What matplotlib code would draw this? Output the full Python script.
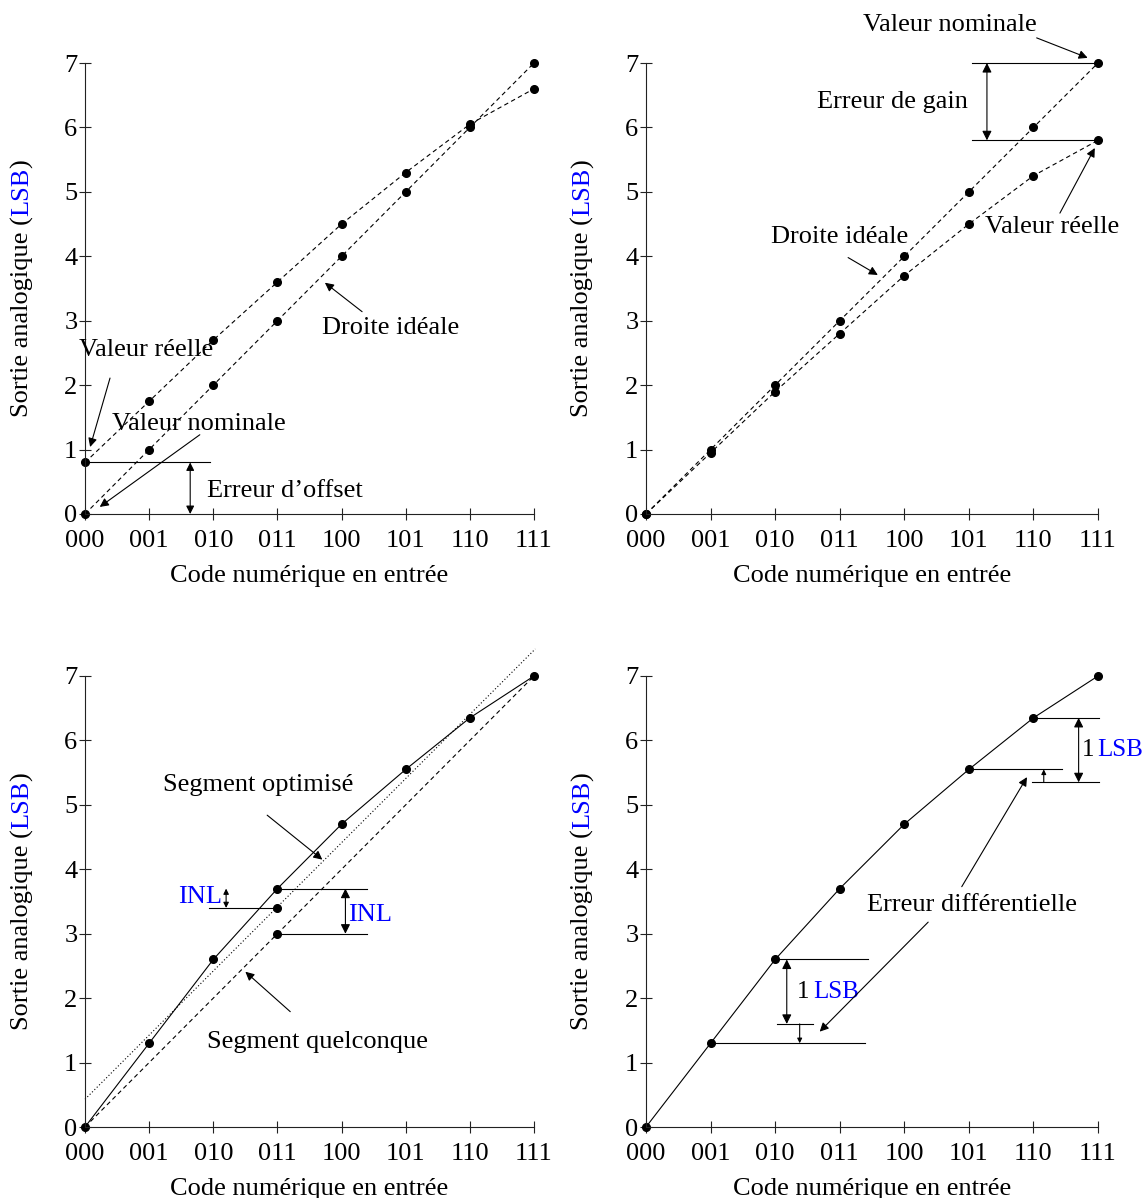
import numpy as np
import matplotlib.pyplot as plt

plt.rcParams['font.family'] = ['Liberation Serif', 'DejaVu Serif']
plt.rcParams['font.size'] = 19

# ---------------- data ---------------- #

codes = ['000', '001', '010', '011', '100', '101', '110', '111']
x = np.arange(8)
ideal = [0, 1, 2, 3, 4, 5, 6, 7]

# offset error
offset_real = [0.8, 1.75, 2.7, 3.6, 4.5, 5.3, 6.05, 6.6]
# gain error
gain_real = [0, 0.95, 1.9, 2.8, 3.7, 4.5, 5.25, 5.8]
# non linear transfer (INL / DNL)
nl_real = [0, 1.3, 2.6, 3.7, 4.7, 5.55, 6.35, 7.0]
opt_x = [0, 7.02]
opt_y = [0.43, 7.42]
inl_x = [3, 3]
inl_y = [3.4, 3.0]

BLUE = '#0000ff'
LW = 0.8

# ---------------- helpers ---------------- #

def setup(ax, left, bottom, width):
    ax.set_position([left / 1146, bottom / 1198, width / 1146, 451 / 1198])
    ax.set_xlim(0, 7)
    ax.set_ylim(0, 7)
    for s in ['top', 'right']:
        ax.spines[s].set_visible(False)
    for s in ['left', 'bottom']:
        ax.spines[s].set_linewidth(LW)
        ax.spines[s].set_color('#222222')
    ax.set_xticks(x)
    ax.set_xticklabels(codes)
    ax.set_yticks(range(8))
    ax.tick_params(direction='inout', length=9, width=LW, color='#222222')
    ax.tick_params(axis='x', pad=7)
    ax.tick_params(axis='y', pad=1)
    ax.set_xlabel('Code numérique en entrée')
    ax.xaxis.set_label_coords(0.5, -0.113)
    t1 = ax.text(-0.14, 0.215, 'Sortie analogique (', rotation=90,
                 transform=ax.transAxes, ha='center', va='bottom')
    t2 = ax.annotate('LSB', xy=(0.5, 1), xycoords=t1, rotation=90,
                     ha='center', va='bottom', color=BLUE)
    ax.annotate(')', xy=(0.5, 1), xycoords=t2, rotation=90,
                ha='center', va='bottom')


def arrow(ax, start, end, style='-|>', scale=13):
    ax.annotate('', xy=end, xytext=start, annotation_clip=False,
                arrowprops=dict(arrowstyle=style, lw=LW, color='black',
                                mutation_scale=scale, shrinkA=0, shrinkB=0))


def hline(ax, y, x0, x1):
    ax.plot([x0, x1], [y, y], color='black', lw=LW, clip_on=False)


fig = plt.figure(figsize=(11.46, 11.98), dpi=100)

ax1 = fig.add_axes([0, 0, 1, 1])
ax2 = fig.add_axes([0, 0, 1, 1])
ax3 = fig.add_axes([0, 0, 1, 1])
ax4 = fig.add_axes([0, 0, 1, 1])
setup(ax1, 85, 684, 449)
setup(ax2, 646, 684, 452)
setup(ax3, 85, 71, 449)
setup(ax4, 646, 71, 452)

dash = (0, (4, 3))
dot_kw = dict(marker='o', ms=5.5, color='black', lw=LW, clip_on=False)

# ---- offset error ---- #
ax1.plot(x, ideal, ls=dash, **dot_kw)
ax1.plot(x, offset_real, ls=dash, **dot_kw)
hline(ax1, 0.8, 0, 1.95)
arrow(ax1, (1.64, 0.0), (1.64, 0.8), '<|-|>', 12)
ax1.text(1.9, 0.36, 'Erreur d\u2019offset', ha='left', va='center')
ax1.text(0.95, 2.55, 'Valeur réelle', ha='center', va='center')
arrow(ax1, (0.39, 2.11), (0.08, 1.04))
ax1.text(1.78, 1.40, 'Valeur nominale', ha='center', va='center')
arrow(ax1, (1.79, 1.23), (0.23, 0.11))
ax1.text(4.77, 2.89, 'Droite idéale', ha='center', va='center')
arrow(ax1, (4.32, 3.14), (3.74, 3.59))

# ---- gain error ---- #
ax2.plot(x, ideal, ls=dash, **dot_kw)
ax2.plot(x, gain_real, ls=dash, **dot_kw)
hline(ax2, 7.0, 5.05, 7)
hline(ax2, 5.8, 5.05, 7)
arrow(ax2, (5.28, 5.8), (5.28, 7.0), '<|-|>', 14)
ax2.text(4.98, 6.4, 'Erreur de gain', ha='right', va='center')
ax2.text(4.71, 7.59, 'Valeur nominale', ha='center', va='center')
arrow(ax2, (6.05, 7.39), (6.84, 7.08))
ax2.text(6.29, 4.46, 'Valeur réelle', ha='center', va='center')
arrow(ax2, (6.41, 4.67), (6.95, 5.68))
ax2.text(3.0, 4.30, 'Droite idéale', ha='center', va='center')
arrow(ax2, (3.13, 3.98), (3.59, 3.71))

# ---- INL ---- #
ax3.plot(x, nl_real, ls='-', **dot_kw)
ax3.plot([0, 7], [0, 7], ls=dash, color='black', lw=LW, clip_on=False)
ax3.plot(opt_x, opt_y, ls=(0, (1, 2)), color='black', lw=LW, clip_on=False)
ax3.plot(inl_x, inl_y, ls='none', marker='o', ms=5.5, color='black', clip_on=False)
hline(ax3, 3.7, 3, 4.4)
hline(ax3, 3.4, 1.93, 3)
hline(ax3, 3.0, 3, 4.4)
arrow(ax3, (2.2, 3.4), (2.2, 3.7), '<|-|>', 8)
arrow(ax3, (4.06, 3.0), (4.06, 3.7), '<|-|>', 14)
ax3.text(2.14, 3.57, 'INL', ha='right', va='center', color=BLUE)
ax3.text(4.10, 3.29, 'INL', ha='left', va='center', color=BLUE)
ax3.text(2.7, 5.31, 'Segment optimisé', ha='center', va='center')
arrow(ax3, (2.84, 4.84), (3.70, 4.15))
ax3.text(3.63, 1.32, 'Segment quelconque', ha='center', va='center')
arrow(ax3, (3.2, 1.79), (2.5, 2.41))

# ---- DNL ---- #
ax4.plot(x, nl_real, ls='-', **dot_kw)
hline(ax4, 2.6, 2, 3.44)
hline(ax4, 1.3, 1, 3.39)
hline(ax4, 1.6, 2.03, 2.58)
arrow(ax4, (2.18, 1.6), (2.18, 2.6), '<|-|>', 14)
arrow(ax4, (2.38, 1.6), (2.38, 1.3), '-|>', 7)
hline(ax4, 6.35, 6, 7.01)
hline(ax4, 5.55, 5, 6.45)
hline(ax4, 5.35, 5.98, 7.01)
arrow(ax4, (6.70, 5.35), (6.70, 6.35), '<|-|>', 14)
arrow(ax4, (6.16, 5.35), (6.16, 5.55), '-|>', 7)
for (tx, ty) in [(2.34, 2.10), (6.745, 5.85)]:
    t = ax4.text(tx, ty, '1', ha='left', va='center', fontsize=18)
    ax4.annotate('LSB', xy=(1, 0), xycoords=t, xytext=(2.5, 0),
                 textcoords='offset points', ha='left', va='bottom',
                 color=BLUE, fontsize=18)
ax4.text(5.05, 3.45, 'Erreur différentielle', ha='center', va='center')
arrow(ax4, (4.89, 3.73), (5.9, 5.43))
arrow(ax4, (4.37, 3.18), (2.69, 1.48))

fig.savefig('out.png', dpi=100)
